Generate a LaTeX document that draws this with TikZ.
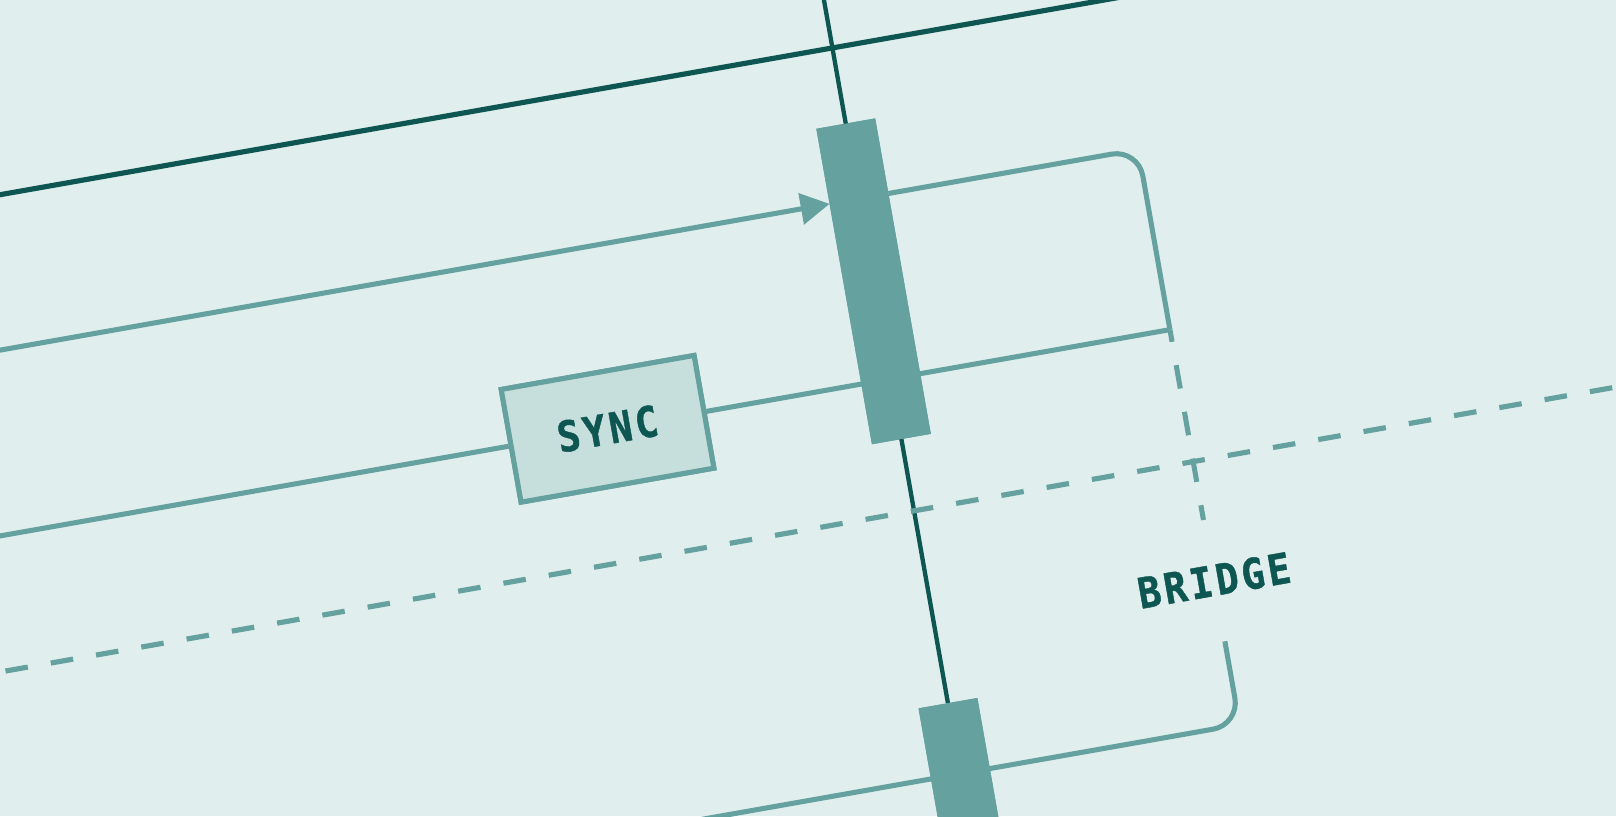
\documentclass[tikz,border=0pt]{standalone}
\usepackage{fontspec}
\usetikzlibrary{arrows.meta}
\newfontfamily\lblfont{DejaVu Sans Mono}[FakeStretch=0.9, LetterSpace=8, FakeBold=1]
\definecolor{bgc}{HTML}{E0EEED}
\definecolor{darkt}{HTML}{0E5652}
\definecolor{midt}{HTML}{64A19F}
\definecolor{syncf}{HTML}{C6DFDC}
\tikzset{
  darkline/.style={draw=darkt, line width=5pt},
  lifeline/.style={draw=darkt, line width=4.2pt},
  midline/.style={draw=midt, line width=4.9pt},
  dashline/.style={draw=midt, line width=5pt, dash pattern=on 22pt off 22.6pt},
  vdash/.style={draw=midt, line width=4.9pt, dash pattern=on 23pt off 23pt, dash phase=11pt},
  actbar/.style={rectangle, fill=midt, draw=none, minimum width=58pt, inner sep=0pt},
  lbltext/.style={text=darkt, font=\lblfont\bfseries\fontsize{41}{46}\selectfont},
  syncbox/.style={rectangle, fill=syncf, draw=midt, line width=4.9pt, minimum width=190pt, minimum height=111pt, inner sep=0pt, lbltext},
  framelbl/.style={rectangle, inner sep=0pt, lbltext},
}
\begin{document}
\begin{tikzpicture}[x=1pt,y=1pt]
\useasboundingbox (0,0) rectangle (1568,792);
\fill[bgc] (0,0) rectangle (1568,792);
\clip (0,0) rectangle (1568,792);
\begin{scope}[shift={(784,396)}, rotate=10, transform shape]
  % coordinates
  \coordinate (topL) at (-1000,340);
  \coordinate (topR) at (1000,340);
  \coordinate (lifetop) at (84,700);
  \coordinate (arrL) at (-1000,191.5);
  \coordinate (arrTip) at (55,191.5);
  \coordinate (f1) at (113,191.5);
  \coordinate (f2) at (359,191.5);
  \coordinate (f3) at (359,14);
  \coordinate (f4) at (359,-173.5);
  \coordinate (f5) at (359,-293);
  \coordinate (f6) at (359,-375);
  \coordinate (f7) at (-1000,-375);
  \coordinate (syncL) at (-1000,14);
  \coordinate (dashL) at (-900.2,-116);
  \coordinate (dashR) at (900,-116);
  % nodes
  \node[actbar, minimum height=310.8pt] (act1) at (84,110.1) {};
  \node[actbar, minimum height=200pt] (act2) at (84,-405.5) {};
  \node[syncbox] (sync) at (-195,14) {SYNC};
  \node[framelbl] (bridge) at (359,-233) {BRIDGE};
  % lines
  \draw[darkline] (topL) -- (topR);
  \draw[lifeline] (lifetop) -- (act2.north);
  \draw[dashline] (dashL) -- (dashR);
  \draw[midline, rounded corners=26pt] (f1) -- (f2) -- (f3);
  \draw[midline] (f3) -- (sync.east);
  \draw[vdash] (f3) -- (f4);
  \draw[midline, rounded corners=26pt] (f5) -- (f6) -- (f7);
  \draw[midline, -{Triangle[length=28pt, width=30pt]}] (arrL) -- (arrTip);
  \draw[midline] (syncL) -- (sync.west);
  % redraw nodes on top
  \node[actbar, minimum height=310.8pt] at (act1) {};
  \node[actbar, minimum height=200pt] at (act2) {};
  \node[syncbox] at (sync) {SYNC};
\end{scope}
\end{tikzpicture}
\end{document}
